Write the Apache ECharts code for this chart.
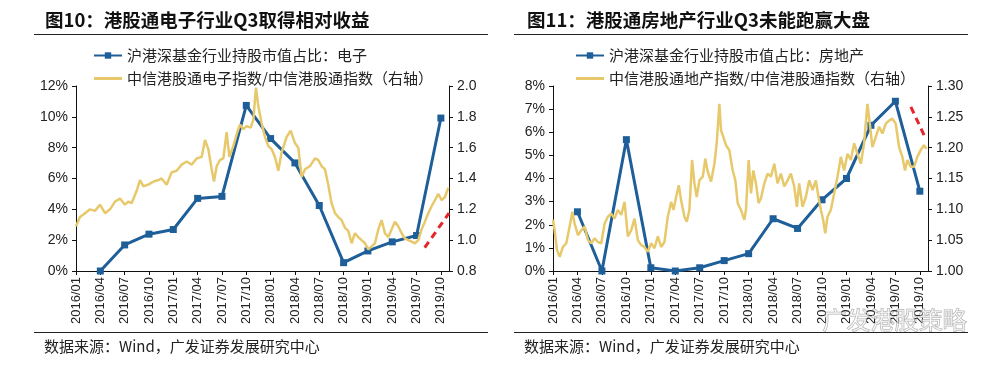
<!DOCTYPE html>
<html><head><meta charset="utf-8">
<script src="https://cdn.jsdelivr.net/npm/echarts@6/dist/echarts.min.js"></script>
<style>html,body{margin:0;padding:0;background:#fff}#c{width:997px;height:367px}</style>
</head><body><div id="c"></div>
<script>
// ---- data ----
const quarterLabels = ['2016/01','2016/04','2016/07','2016/10','2017/01','2017/04','2017/07','2017/10',
  '2018/01','2018/04','2018/07','2018/10','2019/01','2019/04','2019/07','2019/10'];
const shareQuarters = ['2016/04','2016/07','2016/10','2017/01','2017/04','2017/07','2017/10',
  '2018/01','2018/04','2018/07','2018/10','2019/01','2019/04','2019/07','2019/10'];

// Figure 10: electronics
const elecShare = [0.0,1.69,2.39,2.69,4.71,4.84,10.74,8.59,7.01,4.25,0.54,1.30,1.89,2.30,9.92];
// months since 2016/01
const elecRatioMonths = [0.0,0.49,1.11,1.73,2.34,2.96,3.58,4.19,4.81,5.43,6.04,6.45,6.86,7.48,7.89,8.30,8.92,9.54,10.15,10.56,
  11.18,11.80,12.41,13.03,13.65,14.26,14.88,15.50,15.91,16.32,16.73,17.02,17.35,17.76,18.17,18.58,18.91,19.40,19.89,20.22,
  20.63,21.04,21.54,21.87,22.19,22.48,22.89,23.30,23.72,24.13,24.54,24.95,25.36,25.98,26.47,27.00,27.41,27.83,28.24,28.85,
  29.47,29.88,30.29,30.70,31.11,31.52,31.94,32.35,32.76,33.17,33.58,33.99,34.40,34.81,35.22,35.64,36.05,36.46,36.87,37.28,
  37.69,38.10,38.51,38.92,39.33,39.74,40.16,40.57,40.98,41.39,41.80,42.21,42.62,43.03,43.44,43.85,44.27,44.68,45.09,45.50,45.91];
const elecRatio = [1.09,1.15,1.175,1.20,1.19,1.23,1.175,1.20,1.25,1.27,1.23,1.25,1.24,1.32,1.39,1.35,1.36,1.38,1.39,1.40,
  1.36,1.44,1.45,1.49,1.51,1.49,1.53,1.54,1.65,1.59,1.46,1.38,1.48,1.52,1.53,1.70,1.54,1.61,1.70,1.75,
  1.72,1.74,1.73,1.78,1.99,1.87,1.76,1.67,1.61,1.59,1.54,1.45,1.57,1.67,1.71,1.63,1.60,1.41,1.46,1.48,
  1.53,1.52,1.48,1.46,1.36,1.24,1.175,1.15,1.13,1.08,1.06,0.98,1.045,1.02,1.00,0.98,0.94,0.96,0.98,1.07,
  1.13,1.045,1.02,1.07,1.12,1.09,1.045,1.01,1.00,0.99,0.98,1.00,1.07,1.12,1.175,1.22,1.26,1.30,1.26,1.28,1.34];
const elecArrow = [[43.0,0.952],[46.0,1.175]];

// Figure 11: real estate
const propShare = [2.56,0.0,5.68,0.14,0.0,0.14,0.45,0.75,2.26,1.84,3.08,4.0,6.3,7.34,3.45];
const propRatioMonths = [0,0.20,0.49,0.82,1.22,1.63,2.04,2.37,2.65,3.06,3.47,3.88,4.29,4.69,5.10,5.51,5.92,6.33,6.73,7.14,
  7.55,7.96,8.37,8.78,9.18,9.59,10.00,10.41,10.82,11.22,11.63,12.04,12.45,12.86,13.27,13.67,14.08,14.49,14.78,15.10,
  15.43,15.71,16.12,16.41,16.73,17.06,17.35,17.63,17.96,18.37,18.69,18.98,19.39,19.80,20.08,20.41,20.61,20.90,21.22,21.63,
  22.04,22.37,22.65,23.06,23.47,23.67,24.00,24.29,24.57,24.90,25.22,25.51,25.92,26.33,26.73,27.14,27.55,27.96,28.37,28.78,
  29.18,29.59,29.92,30.20,30.61,31.02,31.43,31.84,32.24,32.57,32.86,33.14,33.39,33.67,34.08,34.49,34.90,35.31,35.71,36.12,
  36.53,36.94,37.35,37.76,38.16,38.57,38.86,39.18,39.59,40.00,40.41,40.82,41.22,41.63,42.04,42.45,42.86,43.18,43.47,43.88,
  44.29,44.69,45.10,45.51,45.80];
const propRatio = [1.083,1.066,1.034,1.023,1.039,1.045,1.072,1.096,1.077,1.058,1.066,1.072,1.050,1.045,1.053,1.047,1.045,1.077,1.088,1.093,
  1.085,1.099,1.091,1.112,1.056,1.066,1.085,1.050,1.042,1.039,1.031,1.045,1.037,1.056,1.039,1.047,1.088,1.112,1.099,1.120,
  1.139,1.115,1.088,1.080,1.099,1.180,1.142,1.120,1.147,1.153,1.182,1.161,1.145,1.174,1.207,1.271,1.228,1.217,1.204,1.196,
  1.163,1.147,1.110,1.099,1.083,1.099,1.180,1.126,1.163,1.142,1.110,1.118,1.142,1.158,1.153,1.174,1.142,1.158,1.137,1.147,
  1.158,1.137,1.104,1.142,1.104,1.120,1.147,1.131,1.147,1.120,1.099,1.083,1.061,1.088,1.099,1.126,1.153,1.185,1.163,1.190,
  1.180,1.207,1.190,1.174,1.207,1.271,1.239,1.201,1.217,1.234,1.223,1.239,1.244,1.247,1.239,1.201,1.185,1.163,1.180,1.169,
  1.169,1.185,1.196,1.204,1.198];
const propArrow = [[43.9,1.266],[45.6,1.218]];

// ---- build ----
const BLUE = '#1F5F99', YELLOW = '#E7C96B', RED = '#E5252A';
const monthIdx = s => { const [y, m] = s.split('/').map(Number); return (y - 2016) * 12 + (m - 1); };
const tickVals = quarterLabels.map(monthIdx);
const pairs = (xs, ys) => xs.map((x, i) => [x, ys[i]]);
const FONT = 'Liberation Sans, Arial, sans-serif';
const CJK = '"Noto Sans CJK SC", sans-serif';
const LINE_ICON = 'path://M0,0L28,0L28,3L0,3Z';

function xAxis(gi) {
  return {
    type: 'value', gridIndex: gi, min: 0, max: 46, interval: 3,
    axisLine: { lineStyle: { color: '#111', width: 1 } },
    axisTick: { length: 4, lineStyle: { color: '#111' }, customValues: tickVals },
    axisLabel: { rotate: 90, fontSize: 13, fontFamily: FONT, color: '#222', margin: 6,
      customValues: tickVals,
      formatter: v => { const i = tickVals.indexOf(Math.round(v)); return i >= 0 ? quarterLabels[i] : ''; } },
    splitLine: { show: false }
  };
}
function yAxis(gi, pos, min, max, interval, fmt) {
  return {
    type: 'value', gridIndex: gi, position: pos, min, max, interval,
    axisLine: { show: true, lineStyle: { color: '#111', width: 1 } },
    axisTick: { show: true, length: 4, lineStyle: { color: '#111' } },
    axisLabel: { fontSize: 14, fontFamily: FONT, color: '#222', margin: 8, formatter: fmt },
    splitLine: { show: false }
  };
}
function arrowLine(pts) {
  return {
    silent: true, symbol: ['none', 'arrow'], symbolSize: [0, 13],
    lineStyle: { color: RED, type: [7, 5], width: 3 },
    label: { show: false }, emphasis: { disabled: true },
    data: [[{ coord: pts[0] }, { coord: pts[1] }]]
  };
}

const nameE1 = '沪港深基金行业持股市值占比：电子';
const nameE2 = '中信港股通电子指数/中信港股通指数（右轴）';
const nameP1 = '沪港深基金行业持股市值占比：房地产';
const nameP2 = '中信港股通地产指数/中信港股通指数（右轴）';

const legendBase = { orient: 'vertical', itemWidth: 28, itemHeight: 8, itemGap: 8,
  textStyle: { fontSize: 15, fontFamily: CJK, color: '#222' } };

const option = {
  animation: false,
  backgroundColor: '#fff',
  legend: [
    Object.assign({ left: 88, top: 43, data: [nameE1, { name: nameE2, icon: LINE_ICON }] }, legendBase),
    Object.assign({ left: 570, top: 43, data: [nameP1, { name: nameP2, icon: LINE_ICON }] }, legendBase)
  ],
  grid: [
    { left: 76, top: 86, width: 373, height: 185 },
    { left: 553, top: 86, width: 375, height: 185 }
  ],
  xAxis: [xAxis(0), xAxis(1)],
  yAxis: [
    yAxis(0, 'left', 0, 12, 2, '{value}%'),
    yAxis(0, 'right', 0.8, 2.0, 0.2, v => v.toFixed(1)),
    yAxis(1, 'left', 0, 8, 1, '{value}%'),
    yAxis(1, 'right', 1.0, 1.3, 0.05, v => v.toFixed(2))
  ],
  series: [
    { name: nameE1, type: 'line', xAxisIndex: 0, yAxisIndex: 0, data: pairs(shareQuarters.map(monthIdx), elecShare),
      symbol: 'rect', symbolSize: 7, lineStyle: { color: BLUE, width: 3 }, itemStyle: { color: BLUE }, z: 2 },
    { name: nameE2, type: 'line', xAxisIndex: 0, yAxisIndex: 1, data: pairs(elecRatioMonths, elecRatio),
      showSymbol: false, symbol: 'none', lineStyle: { color: YELLOW, width: 2.5 }, itemStyle: { color: YELLOW },
      clip: false, z: 3, markLine: arrowLine(elecArrow) },
    { name: nameP1, type: 'line', xAxisIndex: 1, yAxisIndex: 2, data: pairs(shareQuarters.map(monthIdx), propShare),
      symbol: 'rect', symbolSize: 7, lineStyle: { color: BLUE, width: 3 }, itemStyle: { color: BLUE }, z: 2 },
    { name: nameP2, type: 'line', xAxisIndex: 1, yAxisIndex: 3, data: pairs(propRatioMonths, propRatio),
      showSymbol: false, symbol: 'none', lineStyle: { color: YELLOW, width: 2.5 }, itemStyle: { color: YELLOW },
      clip: false, z: 3, markLine: arrowLine(propArrow) }
  ],
  graphic: [
    { type: 'text', left: 45, top: 11, style: { text: '图10：港股通电子行业Q3取得相对收益', font: 'bold 18.5px "Noto Sans CJK SC", sans-serif', fill: '#111' } },
    { type: 'text', left: 527, top: 11, style: { text: '图11：港股通房地产行业Q3未能跑赢大盘', font: 'bold 18.5px "Noto Sans CJK SC", sans-serif', fill: '#111' } },
    { type: 'line', shape: { x1: 34, y1: 34.5, x2: 488, y2: 34.5 }, style: { stroke: '#222', lineWidth: 1 } },
    { type: 'line', shape: { x1: 514, y1: 34.5, x2: 968, y2: 34.5 }, style: { stroke: '#222', lineWidth: 1 } },
    { type: 'line', shape: { x1: 34, y1: 332.5, x2: 488, y2: 332.5 }, style: { stroke: '#222', lineWidth: 1 } },
    { type: 'line', shape: { x1: 514, y1: 332.5, x2: 968, y2: 332.5 }, style: { stroke: '#222', lineWidth: 1 } },
    { type: 'text', left: 44, top: 339, style: { text: '数据来源：Wind，广发证券发展研究中心', font: '15px "Noto Sans CJK SC", sans-serif', fill: '#222' } },
    { type: 'text', left: 524, top: 339, style: { text: '数据来源：Wind，广发证券发展研究中心', font: '15px "Noto Sans CJK SC", sans-serif', fill: '#222' } },
    { type: 'text', left: 822, top: 307, z: 100, style: { text: '广发港股策略', font: '24px "Noto Sans CJK SC", sans-serif', fill: 'rgba(255,255,255,0.55)', stroke: 'rgba(110,110,110,0.55)', lineWidth: 1 } }
  ]
};
const chart = echarts.init(document.getElementById('c'), null, { renderer: 'canvas' });
chart.setOption(option);
</script></body></html>
